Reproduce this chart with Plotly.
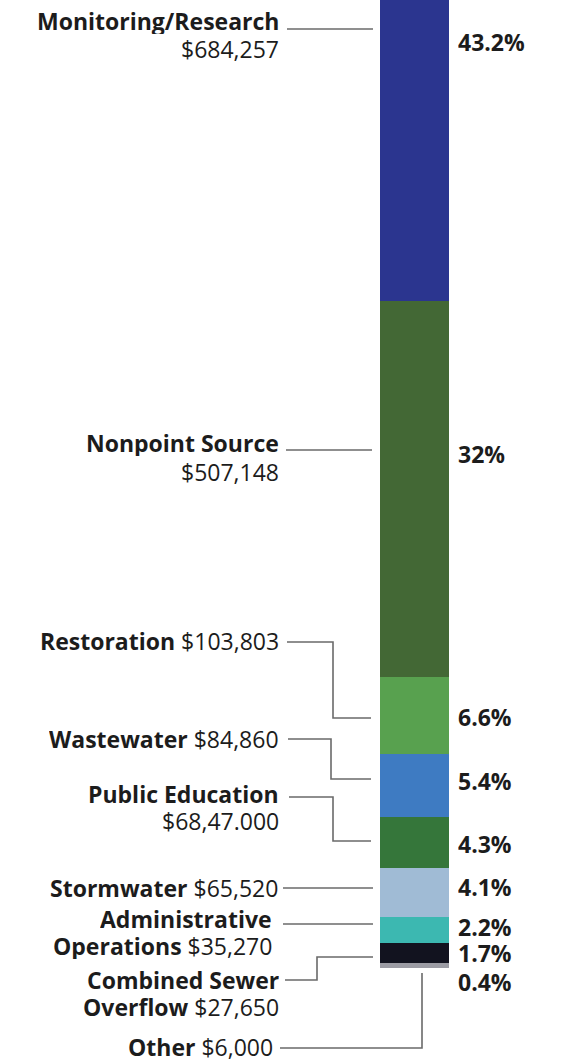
import plotly.graph_objects as go

# budget by program area
categories = [
    "Monitoring/Research",
    "Nonpoint Source",
    "Restoration",
    "Wastewater",
    "Public Education",
    "Stormwater",
    "Administrative Operations",
    "Combined Sewer Overflow",
    "Other",
]
amounts = [684257, 507148, 103803, 84860, 68470, 65520, 35270, 27650, 6000]
amount_labels = [
    "$684,257", "$507,148", "$103,803", "$84,860", "$68,47.000",
    "$65,520", "$35,270", "$27,650", "$6,000",
]
pct_labels = ["43.2%", "32%", "6.6%", "5.4%", "4.3%", "4.1%", "2.2%", "1.7%", "0.4%"]
colors = [
    "#2b358f", "#436835", "#58a14f", "#3e7bc2", "#35763a",
    "#a0bbd5", "#3cb8b1", "#12131f", "#9c9ca4",
]

W, H = 562, 1063
FONT = "Open Sans"
TXT = "#1c1c1c"
LINE = "#6a6a6a"
FS = 23
BOX_H = 26  # keep each text box to its own line

total = sum(amounts)
shares = [a / total * 100 for a in amounts]

# label layout (pixel coords on an overlay axis)
label_style = ["stack", "stack", "inline", "inline", "stack", "inline", "wrap", "wrap", "inline"]
label_y = [[21, 49], [443, 472], [641], [739], [794, 821], [888], [919, 946], [980, 1007], [1047]]
label_x = [280, 280, 280, 280, 280, 279, 273, 280, 274]
pct_y = [42, 454, 717, 781, 844, 887, 927, 953, 982]
connectors = [
    [(287, 29), (373, 29)],
    [(286, 450), (372, 450)],
    [(287, 642), (333, 642), (333, 718), (371, 718)],
    [(288, 739), (331, 739), (331, 779), (371, 779)],
    [(289, 797), (333, 797), (333, 841), (371, 841)],
    [(283, 888), (373, 888)],
    [(283, 924), (373, 924)],
    [(285, 980), (317, 980), (317, 957), (373, 957)],
    [(280, 1048), (422, 1048), (422, 973)],
]


def label_lines(name, amount, style):
    if style == "stack":
        return [f"<b>{name}</b>", amount]
    if style == "wrap":
        first, last = name.rsplit(" ", 1)
        return [f"<b>{first}</b>", f"<b>{last}</b> {amount}"]
    return [f"<b>{name}</b> {amount}"]


fig = go.Figure()
for name, share, color in zip(categories, shares, colors):
    fig.add_trace(go.Bar(
        x=[414.5], y=[share], width=69, name=name,
        marker=dict(color=color, line=dict(width=0)),
        hoverinfo="name",
    ))

annotations = []
shapes = []
for i, name in enumerate(categories):
    lines = label_lines(name, amount_labels[i], label_style[i])
    for txt, py in zip(lines, label_y[i]):
        annotations.append(dict(
            x=label_x[i], y=py, xref="x", yref="y2", text=txt,
            xanchor="right", yanchor="middle", showarrow=False, borderpad=0,
            height=BOX_H, font=dict(family=FONT, size=FS, color=TXT),
        ))
    annotations.append(dict(
        x=457, y=pct_y[i], xref="x", yref="y2", text=f"<b>{pct_labels[i]}</b>",
        xanchor="left", yanchor="middle", showarrow=False, borderpad=0,
        height=BOX_H, font=dict(family=FONT, size=FS, color=TXT),
    ))
    pts = connectors[i]
    path = "M " + " L ".join(f"{x},{y}" for x, y in pts)
    shapes.append(dict(
        type="path", path=path, xref="x", yref="y2",
        line=dict(color=LINE, width=1.6),
    ))

fig.update_layout(
    width=W, height=H,
    margin=dict(l=0, r=0, t=0, b=0),
    barmode="stack",
    showlegend=False,
    paper_bgcolor="white",
    plot_bgcolor="white",
    xaxis=dict(range=[0, W], visible=False, fixedrange=True),
    # percent of budget, reversed; the original graphic is cropped at the top
    yaxis=dict(range=[108.1, 17.6], visible=False, fixedrange=True),
    yaxis2=dict(range=[H, 0], overlaying="y", visible=False, fixedrange=True),
    annotations=annotations,
    shapes=shapes,
)

# drop the page's default body margin so the figure sits flush in the window
fig.write_html(
    "out.html",
    config={"displayModeBar": False},
    post_script="document.body.style.margin='0';",
)
